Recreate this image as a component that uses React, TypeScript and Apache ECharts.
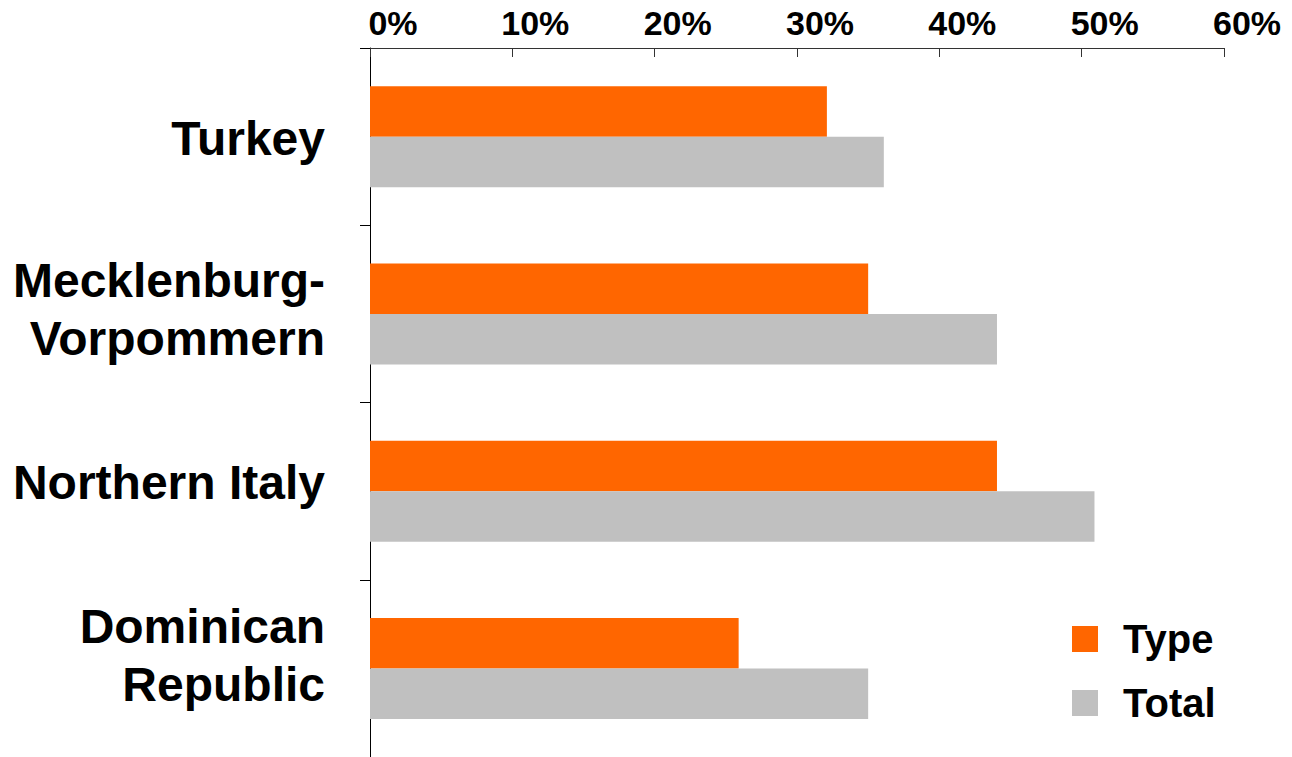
import React, { useEffect, useRef } from "react";
import * as echarts from "echarts";

const categories = ["Turkey", "Mecklenburg-\nVorpommern", "Northern Italy", "Dominican\nRepublic"];
const typeValues = [32.1, 35.0, 44.05, 25.9];
const totalValues = [36.1, 44.05, 50.9, 35.0];
const seriesNames = ["Type", "Total"];
const FONT = "'Liberation Sans', Arial, sans-serif";
// vertical label nudges (px, negative = up) to match the reference's label placement
const labelShift = [2, -4.5, -8.5, -13];

const rich: Record<string, any> = {
  t: { fontFamily: FONT, fontSize: 48, fontWeight: "bold", color: "#000", lineHeight: 58 },
};
labelShift.forEach((s, i) => {
  rich["g" + i] = { fontSize: 1, lineHeight: Math.max(1, Math.abs(s) * 2) };
});

export default function App() {
  const ref = useRef<HTMLDivElement>(null);
  useEffect(() => {
    if (!ref.current) return;
    const chart = echarts.init(ref.current, null, { renderer: "svg" });
    chart.setOption({
      animation: false,
      backgroundColor: "#ffffff",
      textStyle: { fontFamily: FONT },
      grid: { left: 370, top: 48, right: 68, bottom: 0, containLabel: false },
      legend: {
        orient: "vertical",
        left: 1072,
        top: 619,
        padding: 0,
        itemWidth: 26,
        itemHeight: 26,
        itemGap: 24,
        icon: "rect",
        data: seriesNames,
        textStyle: {
          fontFamily: FONT,
          fontSize: 40,
          fontWeight: "bold",
          color: "#000",
          lineHeight: 38,
          padding: [0, 0, 0, 20],
        },
      },
      xAxis: {
        type: "value",
        position: "top",
        min: 0,
        max: 60,
        interval: 10,
        axisLine: { show: true, lineStyle: { color: "#333", width: 1 } },
        axisTick: { show: true, inside: true, length: 9, lineStyle: { color: "#333" } },
        splitLine: { show: false },
        axisLabel: {
          formatter: "{value}%",
          fontFamily: FONT,
          fontSize: 34,
          fontWeight: "bold",
          color: "#000",
          margin: 8,
          padding: [0, 0, 0, 46],
        },
      },
      yAxis: {
        type: "category",
        inverse: true,
        data: categories,
        axisLine: { show: true, lineStyle: { color: "#000", width: 1 } },
        axisTick: { show: true, length: 10, lineStyle: { color: "#000" } },
        axisLabel: {
          fontFamily: FONT,
          fontSize: 48,
          fontWeight: "bold",
          color: "#000",
          margin: 45,
          align: "right",
          rich,
          formatter: (value: string, index: number) => {
            const s = labelShift[index];
            const lines = value
              .split("\n")
              .map((l) => `{t|${l}}`)
              .join("\n");
            return s < 0 ? `${lines}\n{g${index}| }` : `{g${index}| }\n${lines}`;
          },
        },
      },
      series: [
        {
          name: seriesNames[0],
          type: "bar",
          data: typeValues,
          barWidth: 50.5,
          barGap: "0%",
          itemStyle: { color: "#FF6600" },
        },
        {
          name: seriesNames[1],
          type: "bar",
          data: totalValues,
          barWidth: 50.5,
          barGap: "0%",
          itemStyle: { color: "#C0C0C0" },
        },
      ],
    });
    return () => chart.dispose();
  }, []);
  return <div ref={ref} style={{ width: 1292, height: 757, position: "absolute", left: 0, top: 0 }} />;
}
